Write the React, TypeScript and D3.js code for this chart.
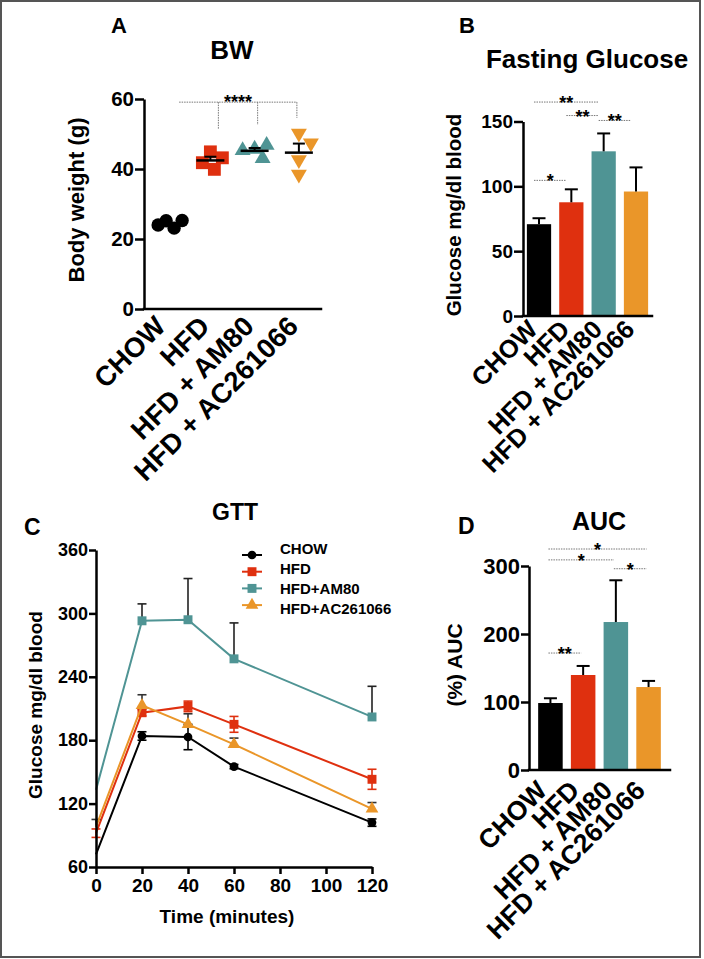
import React, { useEffect, useRef } from 'react';
import * as d3 from 'd3';

const FONT = "'Liberation Sans', Arial, Helvetica, sans-serif";

const groups = ['CHOW', 'HFD', 'HFD + AM80', 'HFD + AC261066'];
const groupColors = ['#000000', '#df300f', '#4f9494', '#ea9629'];

// A: body weight per mouse (g)
const bwChow = [25.2, 23.1, 24.0, 25.3];
const bwHfd = [44.9, 43.2, 41.8, 39.9];
const bwAm80 = [45.7, 46.8, 43.0, 45.3];
const bwAc = [50.2, 47.4, 42.6, 38.5];
const bwTicks = [0, 20, 40, 60];

// B: fasting glucose (mg/dl)
const fastingMean = [70.8, 87.7, 127.0, 96.0];
const fastingSem = [4.6, 10.0, 13.8, 18.6];
const fastingTicks = [0, 50, 100, 150];

// C: GTT
const gttTimes = [0, 20, 40, 60, 120];
const gttNames = ['CHOW', 'HFD', 'HFD+AM80', 'HFD+AC261066'];
const gttChow = [72, 184, 183, 155, 102];
const gttChowSem = [0, 4, 12, 2, 3.5];
const gttHfd = [92, 206, 212, 195, 143];
const gttHfdSem = [4, 3, 5, 7.5, 9.5];
const gttAm80 = [133, 293, 294, 257, 202];
const gttAm80Sem = [0, 16, 39, 34, 29];
const gttAc = [98, 213, 195, 176, 115];
const gttAcSem = [7, 10, 10, 6, 6];
const gttYTicks = [60, 120, 180, 240, 300, 360];
const gttXTicks = [0, 20, 40, 60, 80, 100, 120];

// D: AUC (%)
const aucMean = [98.5, 139.7, 217.6, 122.0];
const aucSem = [7.0, 13.3, 61.4, 9.0];
const aucTicks = [0, 100, 200, 300];

// significance: [from, to, label, level]
const fastingSig = [[0, 2, '**', 165], [1, 2, '**', 154.6], [2, 3, '**', 150.8], [0, 1, '*', 104.6]];
const aucSig = [[0, 3, '*', 325], [0, 2, '*', 309], [2, 3, '*', 296], [0, 1, '**', 172]];

const App = () => {
  const ref = useRef(null);

  useEffect(() => {
    const svg = d3.select(ref.current);
    svg.selectAll('*').remove();
    svg.attr('font-family', FONT).attr('font-weight', 'bold');

    svg.append('rect')
      .attr('x', 1).attr('y', 1).attr('width', 699).attr('height', 956)
      .attr('fill', '#fff').attr('stroke', '#555').attr('stroke-width', 2);

    const label = (x, y, str, size, anchor = 'middle', rot = 0) =>
      svg.append('text')
        .attr('transform', `translate(${x},${y}) rotate(${rot})`)
        .attr('text-anchor', anchor)
        .attr('font-size', size)
        .attr('fill', '#000')
        .text(str);

    const yAxis = (scale, x, ticks, size, len) => {
      const ax = svg.append('g')
        .attr('transform', `translate(${x},0)`)
        .call(d3.axisLeft(scale).tickValues(ticks).tickSize(len).tickSizeOuter(0).tickPadding(1));
      ax.attr('font-family', FONT).attr('font-size', size).attr('font-weight', 'bold');
      ax.select('.domain').attr('stroke', '#000').attr('stroke-width', 2.5);
      ax.selectAll('.tick line').attr('stroke', '#000').attr('stroke-width', 2.5);
      ax.selectAll('.tick text').attr('fill', '#000');
      return ax;
    };

    const baseLine = (x0, x1, y) =>
      svg.append('line')
        .attr('x1', x0).attr('x2', x1).attr('y1', y).attr('y2', y)
        .attr('stroke', '#000').attr('stroke-width', 2.5).attr('stroke-linecap', 'square');

    const catLabels = (xs, y0, size, dx, dy) => {
      groups.forEach(name => {
        label(xs(name) + xs.bandwidth() / 2 + dx, y0 + dy, name, size, 'end', -45);
      });
    };

    const sigLine = (x1, x2, y, str, size) => {
      svg.append('line')
        .attr('x1', x1).attr('x2', x2).attr('y1', y).attr('y2', y)
        .attr('stroke', '#777').attr('stroke-width', 1).attr('stroke-dasharray', '1.5,1');
      label((x1 + x2) / 2, y + 7, str, size);
    };

    // ---------- A: BW ----------
    label(111, 33, 'A', 22, 'start');
    label(232, 59, 'BW', 26);
    const ay = d3.scaleLinear().domain([0, 60]).range([309, 99]);
    const ax = d3.scaleBand().domain(groups).range([144, 321]);
    yAxis(ay, 144, bwTicks, 20.5, 9);
    baseLine(144, 321, ay(0));
    label(84, 200, 'Body weight (g)', 22, 'middle', -90);

    const bwData = [bwChow, bwHfd, bwAm80, bwAc];
    const shapes = [d3.symbolCircle, d3.symbolSquare, d3.symbolTriangle, d3.symbolTriangle];
    const sizes = [140, 165, 110, 110];
    const spread = [9, 13, 12, 13];
    bwData.forEach((vals, gi) => {
      const cx = ax(groups[gi]) + ax.bandwidth() / 2;
      const placed = [];
      const minD = spread[gi];
      vals.forEach(v => {
        const y = ay(v);
        let x = cx;
        for (let k = 0; k < 12; k++) {
          const off = k === 0 ? 0 : Math.ceil(k / 2) * 4 * (k % 2 ? 1 : -1);
          const ok = placed.every(p => Math.hypot(p[0] - (cx + off), p[1] - y) >= minD);
          if (ok) { x = cx + off; break; }
        }
        placed.push([x, y]);
        svg.append('path')
          .attr('d', d3.symbol().type(shapes[gi]).size(sizes[gi])())
          .attr('transform', `translate(${x},${y})${gi === 3 ? ' rotate(180)' : ''}`)
          .attr('fill', groupColors[gi]);
      });
      const m = d3.mean(vals);
      const sem = d3.deviation(vals) / Math.sqrt(vals.length);
      svg.append('line').attr('x1', cx - 14).attr('x2', cx + 14).attr('y1', ay(m)).attr('y2', ay(m))
        .attr('stroke', '#000').attr('stroke-width', 2.5);
      svg.append('line').attr('x1', cx).attr('x2', cx).attr('y1', ay(m)).attr('y2', ay(m + sem))
        .attr('stroke', '#000').attr('stroke-width', 2);
      svg.append('line').attr('x1', cx - 6).attr('x2', cx + 6).attr('y1', ay(m + sem)).attr('y2', ay(m + sem))
        .attr('stroke', '#000').attr('stroke-width', 2);
    });

    // **** bracket
    const c = i => ax(groups[i]) + ax.bandwidth() / 2;
    const brY = ay(59.1);
    const dotted = (x1, y1, x2, y2) => svg.append('line')
      .attr('x1', x1).attr('x2', x2).attr('y1', y1).attr('y2', y2)
      .attr('stroke', '#777').attr('stroke-width', 1).attr('stroke-dasharray', '1.5,1');
    dotted(c(0) + 13, brY, c(3) - 2, brY);
    [[1, 51.4, 8], [2, 52.6, 3], [3, 54.6, -2]].forEach(([i, v, o]) => dotted(c(i) + o, brY, c(i) + o, ay(v)));
    label((c(0) + 13 + c(3) - 2) / 2, brY + 6, '****', 18);
    catLabels(ax, ay(0), 27.5, 1, 19);

    // ---------- B: Fasting glucose ----------
    label(459, 33, 'B', 22, 'start');
    label(587, 68, 'Fasting Glucose', 26);
    const by = d3.scaleLinear().domain([0, 150]).range([316, 121.5]);
    const bx = d3.scaleBand().domain(groups).range([523, 652]).paddingInner(0.25).paddingOuter(0.12);
    groups.forEach((g, i) => {
      const x = bx(g);
      const w = bx.bandwidth();
      svg.append('rect').attr('x', x).attr('y', by(fastingMean[i])).attr('width', w)
        .attr('height', by(0) - by(fastingMean[i])).attr('fill', groupColors[i]);
      const top = by(fastingMean[i] + fastingSem[i]);
      svg.append('line').attr('x1', x + w / 2).attr('x2', x + w / 2).attr('y1', by(fastingMean[i])).attr('y2', top)
        .attr('stroke', '#000').attr('stroke-width', 2);
      svg.append('line').attr('x1', x + w / 2 - 6.5).attr('x2', x + w / 2 + 6.5).attr('y1', top).attr('y2', top)
        .attr('stroke', '#000').attr('stroke-width', 2);
    });
    yAxis(by, 523, fastingTicks, 19, 9);
    baseLine(523, 652, by(0));
    label(461, 215, 'Glucose mg/dl blood', 20.5, 'middle', -90);
    const bc = i => bx(groups[i]) + bx.bandwidth() / 2;
    fastingSig.forEach(([a, b, s, v]) => sigLine(bc(a) - 5, bc(b) - 5, by(v), s, 18));
    catLabels(bx, by(0), 25.5, 0, 15);

    // ---------- C: GTT ----------
    label(24, 535, 'C', 23, 'start');
    label(235, 520, 'GTT', 23);
    const cx = d3.scaleLinear().domain([0, 120]).range([96, 372]);
    const cy = d3.scaleLinear().domain([60, 360]).range([867, 550]);
    const series = [
      { vals: gttChow, sem: gttChowSem, sym: d3.symbolCircle, size: 60, both: true, err: '#000' },
      { vals: gttHfd, sem: gttHfdSem, sym: d3.symbolSquare, size: 80, both: true, err: groupColors[1] },
      { vals: gttAm80, sem: gttAm80Sem, sym: d3.symbolSquare, size: 80, both: false, err: '#222' },
      { vals: gttAc, sem: gttAcSem, sym: d3.symbolTriangle, size: 70, both: false, err: '#333' },
    ];
    svg.append('clipPath').attr('id', 'gttClip')
      .append('rect').attr('x', 102).attr('y', 540).attr('width', 290).attr('height', 330);
    const line = d3.line().x((d, i) => cx(gttTimes[i])).y(d => cy(d));
    series.forEach((s, si) => {
      const g = svg.append('g');
      s.vals.forEach((v, i) => {
        if (!s.sem[i]) return;
        const x = cx(gttTimes[i]);
        const hi = cy(v + s.sem[i]);
        const lo = s.both ? cy(v - s.sem[i]) : cy(v);
        g.append('line').attr('x1', x).attr('x2', x).attr('y1', lo).attr('y2', hi)
          .attr('stroke', s.err).attr('stroke-width', 1.6);
        g.append('line').attr('x1', x - 4.5).attr('x2', x + 4.5).attr('y1', hi).attr('y2', hi)
          .attr('stroke', s.err).attr('stroke-width', 1.6);
        if (s.both) g.append('line').attr('x1', x - 4.5).attr('x2', x + 4.5).attr('y1', lo).attr('y2', lo)
          .attr('stroke', s.err).attr('stroke-width', 1.6);
      });
      g.append('path').attr('d', line(s.vals)).attr('fill', 'none')
        .attr('stroke', groupColors[si]).attr('stroke-width', 2);
      const mk = g.append('g').attr('clip-path', 'url(#gttClip)');
      s.vals.forEach((v, i) => {
        mk.append('path').attr('d', d3.symbol().type(s.sym).size(s.size)())
          .attr('transform', `translate(${cx(gttTimes[i])},${cy(v)})`)
          .attr('fill', groupColors[si]);
      });
    });
    yAxis(cy, 96, gttYTicks, 18, 7);
    const cxa = svg.append('g').attr('transform', `translate(0,${cy(60)})`)
      .call(d3.axisBottom(cx).tickValues(gttXTicks).tickSize(7).tickSizeOuter(0).tickPadding(5));
    cxa.attr('font-family', FONT).attr('font-size', 19).attr('font-weight', 'bold');
    cxa.select('.domain').attr('stroke', '#000').attr('stroke-width', 2.5);
    cxa.selectAll('.tick line').attr('stroke', '#000').attr('stroke-width', 2.5);
    cxa.selectAll('.tick text').attr('fill', '#000');
    label(227, 923, 'Time (minutes)', 19);
    label(42, 705, 'Glucose mg/dl blood', 19, 'middle', -90);

    // legend
    series.forEach((s, i) => {
      const my = 555 + i * 16.7;
      svg.append('line').attr('x1', 242).attr('x2', 262).attr('y1', my).attr('y2', my)
        .attr('stroke', groupColors[i]).attr('stroke-width', 2);
      svg.append('path').attr('d', d3.symbol().type(s.sym).size(s.size)())
        .attr('transform', `translate(252,${my})`).attr('fill', groupColors[i]);
      label(280, 553.5 + i * 20, gttNames[i], 15, 'start');
    });

    // ---------- D: AUC ----------
    label(458, 534, 'D', 23, 'start');
    label(599, 530, 'AUC', 25);
    const dy = d3.scaleLinear().domain([0, 300]).range([770, 566]);
    const dx = d3.scaleBand().domain(groups).range([529, 670]).paddingInner(0.25).paddingOuter(0.28);
    groups.forEach((g, i) => {
      const x = dx(g);
      const w = dx.bandwidth();
      svg.append('rect').attr('x', x).attr('y', dy(aucMean[i])).attr('width', w)
        .attr('height', dy(0) - dy(aucMean[i])).attr('fill', groupColors[i]);
      const top = dy(aucMean[i] + aucSem[i]);
      svg.append('line').attr('x1', x + w / 2).attr('x2', x + w / 2).attr('y1', dy(aucMean[i])).attr('y2', top)
        .attr('stroke', '#000').attr('stroke-width', 2);
      svg.append('line').attr('x1', x + w / 2 - 6.5).attr('x2', x + w / 2 + 6.5).attr('y1', top).attr('y2', top)
        .attr('stroke', '#000').attr('stroke-width', 2);
    });
    yAxis(dy, 529, aucTicks, 22, 8);
    baseLine(529, 670, dy(0));
    label(462, 665, '(%) AUC', 21, 'middle', -90);
    const dc = i => dx(groups[i]) + dx.bandwidth() / 2;
    aucSig.forEach(([a, b, s, v]) => sigLine(dc(a) - 2, dc(b) - 2, dy(v), s, 18));
    catLabels(dx, dy(0), 26.5, -2, 22);
  }, []);

  return (
    <svg ref={ref} width={704} height={959} style={{ position: 'absolute', left: 0, top: 0, background: '#fff' }} />
  );
};

export default App;
